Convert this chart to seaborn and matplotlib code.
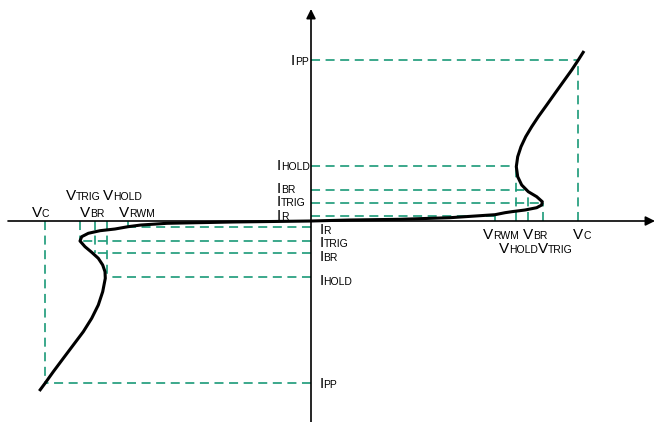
import pandas as pd
import matplotlib
matplotlib.use("Agg")
import matplotlib.pyplot as plt
import seaborn as sns

# key points of the characteristic (arbitrary units, origin at axes crossing)
pos_v = {"VRWM": 184, "VHOLD": 205, "VBR": 217, "VTRIG": 232, "VC": 267}
pos_i = {"IR": 5.3, "ITRIG": 18.3, "IBR": 31, "IHOLD": 55, "IPP": 161}
neg_v = {"VRWM": -183, "VHOLD": -204.5, "VBR": -216, "VTRIG": -231, "VC": -266}
neg_i = {"IR": -6.3, "ITRIG": -19.7, "IBR": -31.7, "IHOLD": -55.7, "IPP": -162.3}
pairs = [("VRWM", "IR"), ("VTRIG", "ITRIG"), ("VBR", "IBR"), ("VHOLD", "IHOLD"), ("VC", "IPP")]

# curve
pos_curve_v = [0, 39, 89, 139, 169, 184, 194, 200.7, 214, 225.7, 230.7, 231.3, 225.7,
               217.3, 210.7, 206.7, 205.3, 206.7, 210, 214.7, 220.7, 227.3, 235.7,
               244, 252.3, 260.7, 267.3, 273]
pos_curve_i = [0, 1, 1.7, 3.3, 5.3, 6.3, 8.3, 9.3, 11, 13.3, 16, 19.3, 24.3,
               29.3, 36, 44.3, 54.3, 64.3, 74.3, 84.3, 94.3, 104.3, 116,
               127.7, 139.3, 151, 161, 170]
neg_curve_v = [0, -78, -144, -170, -183, -196, -211, -222.7, -229.3, -231, -226,
               -219.3, -212.7, -208.3, -206, -205.7, -208.3, -212.7, -219.3, -227.7,
               -237.7, -247.7, -257.7, -266, -271.7]
neg_curve_i = [0, -1, -2.3, -4, -5.7, -8, -9.7, -12.3, -15.7, -20, -25.7,
               -31.3, -37.3, -44, -50.7, -57.3, -70.7, -84, -97.3, -110.7,
               -124, -137.3, -150.7, -162.3, -170]

# label anchors (left, baseline)
pos_v_labels = {"VRWM": (172.3, -18), "VBR": (212.3, -18), "VC": (262.3, -18),
                "VHOLD": (188.3, -32.3), "VTRIG": (226.7, -32.3)}
neg_v_labels = {"VC": (-279.3, 4.3), "VBR": (-231, 4.3), "VRWM": (-192, 4.3),
                "VTRIG": (-245.3, 21), "VHOLD": (-207.7, 21)}
pos_i_labels = {"IHOLD": (-34.3, 51), "IBR": (-34.3, 27.7), "ITRIG": (-34.3, 15),
                "IR": (-34.3, 1.5), "IPP": (-20, 156)}
neg_i_labels = {"IR": (8.3, -13), "ITRIG": (8.3, -26.3), "IBR": (8.3, -39.7),
                "IHOLD": (8.3, -64), "IPP": (8.3, -167)}

sns.set_theme(style="white")
plt.rcParams["font.family"] = ["Liberation Sans", "DejaVu Sans"]
plt.rcParams["lines.scale_dashes"] = False

green = "#1a9a78"

fig = plt.figure(figsize=(6.55, 4.22), dpi=100)
ax = fig.add_axes([0, 0, 1, 1])
ax.set_xlim(-311, 344)
ax.set_ylim(-201, 221)
ax.axis("off")

# dashed guide lines
rows = []
seg = 0
for vd, idict in [(pos_v, pos_i), (neg_v, neg_i)]:
    for vk, ik in pairs:
        rows += [(seg, 0, idict[ik]), (seg, vd[vk], idict[ik])]
        seg += 1
        rows += [(seg, vd[vk], 0), (seg, vd[vk], idict[ik])]
        seg += 1
guides = pd.DataFrame(rows, columns=["seg", "v", "i"])
sns.lineplot(data=guides, x="v", y="i", units="seg", estimator=None, sort=False,
             color=green, lw=1.2, linestyle=(0, (6.5, 4)), ax=ax, zorder=1)

# axes with arrows
ax.annotate("", xy=(344, 0), xytext=(-303, 0),
            arrowprops=dict(arrowstyle="-|>", color="black", lw=1.2,
                            mutation_scale=14, shrinkA=0, shrinkB=0), zorder=2)
ax.annotate("", xy=(0, 212), xytext=(0, -201),
            arrowprops=dict(arrowstyle="-|>", color="black", lw=1.2,
                            mutation_scale=14, shrinkA=0, shrinkB=0), zorder=2)

# IV curve
curve = pd.DataFrame({
    "branch": ["pos"] * len(pos_curve_v) + ["neg"] * len(neg_curve_v),
    "v": pos_curve_v + neg_curve_v,
    "i": pos_curve_i + neg_curve_i,
})
sns.lineplot(data=curve, x="v", y="i", units="branch", estimator=None, sort=False,
             color="black", lw=2.2, ax=ax, zorder=3,
             solid_joinstyle="round", solid_capstyle="butt")

renderer = fig.canvas.get_renderer()


def label(x, y, name):
    main = ax.text(x, y, name[0], fontsize=11, ha="left", va="baseline", color="black")
    w = main.get_window_extent(renderer).width * 72 / fig.dpi
    ax.annotate(name[1:], xy=(x, y), xytext=(w, 0), textcoords="offset points",
                fontsize=7.5, ha="left", va="baseline", color="black")


for d in [pos_v_labels, neg_v_labels, pos_i_labels, neg_i_labels]:
    for name, (x, y) in d.items():
        label(x, y, name)

fig.savefig("out.png", dpi=100, facecolor="white")
